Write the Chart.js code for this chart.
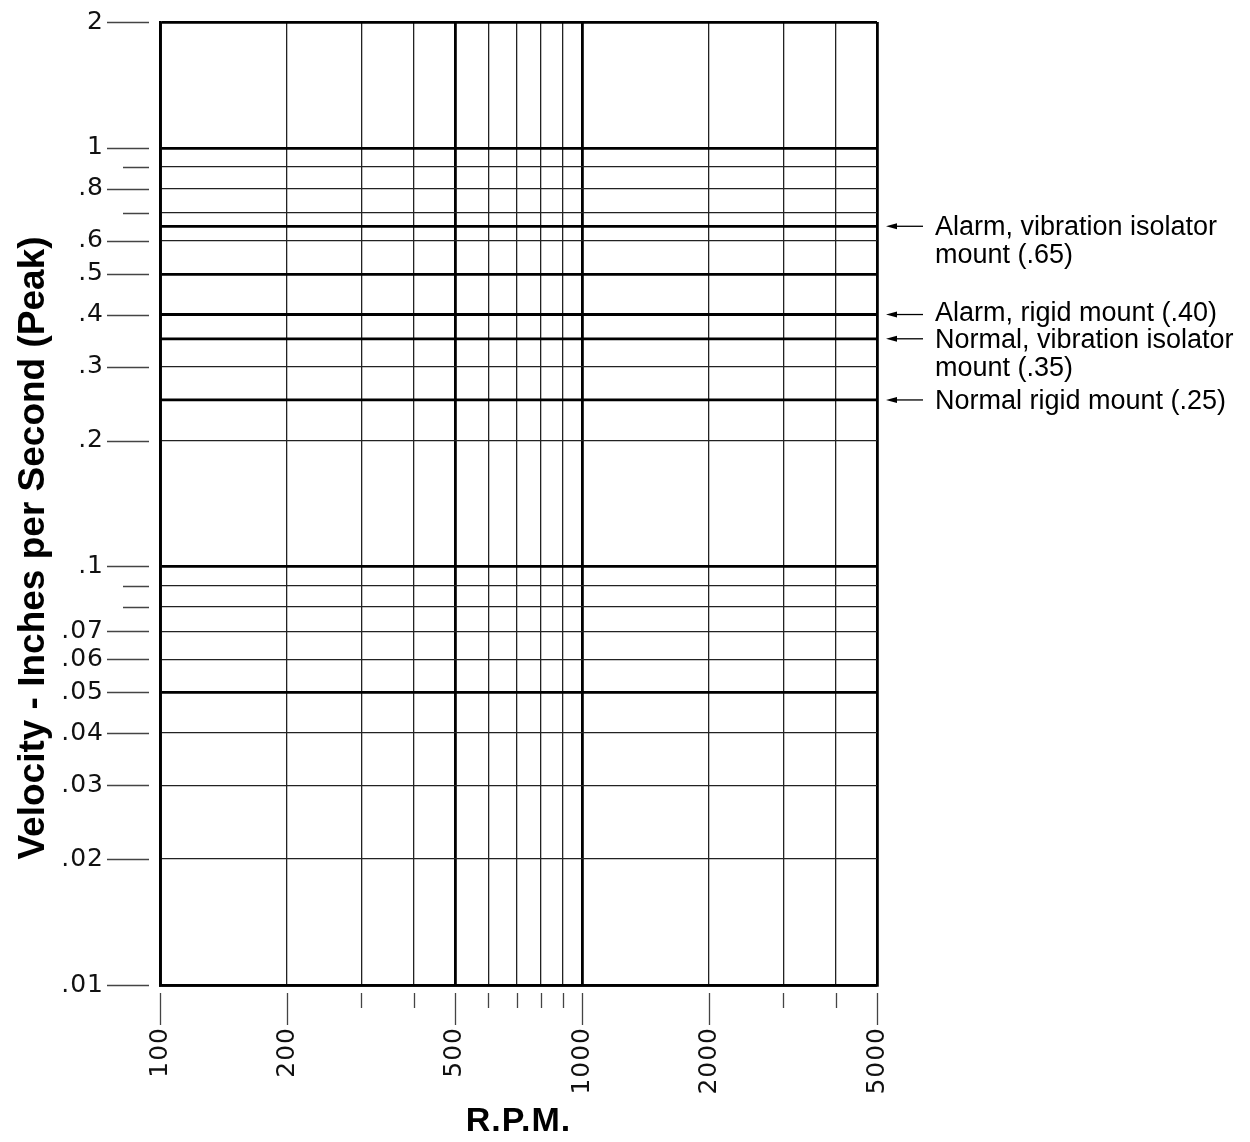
<!DOCTYPE html>
<html>
<head>
<meta charset="utf-8">
<script src="https://cdn.jsdelivr.net/npm/chart.js@4.4.1/dist/chart.umd.min.js"></script>
<style>
  html, body { margin: 0; padding: 0; background: #fff; }
  #chart { display: block; }
</style>
</head>
<body>
<canvas id="chart" width="1250" height="1142"></canvas>
<script>
// R.P.M. axis (log)
const rpmTicks = [100, 200, 300, 400, 500, 600, 700, 800, 900, 1000, 2000, 3000, 4000, 5000];
const rpmLabels = ['100', '200', '', '', '500', '', '', '', '', '1000', '2000', '', '', '5000'];
const rpmHeavy = [100, 500, 1000, 5000];

// velocity axis (log)
const velTicks = [0.01, 0.02, 0.03, 0.04, 0.05, 0.06, 0.07, 0.08, 0.09, 0.1,
  0.2, 0.3, 0.4, 0.5, 0.6, 0.7, 0.8, 0.9, 1, 2];
const velLabels = ['.01', '.02', '.03', '.04', '.05', '.06', '.07', '', '', '.1',
  '.2', '.3', '.4', '.5', '.6', '', '.8', '', '1', '2'];
const velHeavy = [0.01, 0.05, 0.1, 0.5, 1, 2];

// severity limits
const limitValues = [0.65, 0.40, 0.35, 0.25];
const limitNotes = [
  ['Alarm, vibration isolator', 'mount (.65)'],
  ['Alarm, rigid mount (.40)'],
  ['Normal, vibration isolator', 'mount (.35)'],
  ['Normal rigid mount (.25)']
];
const noteShift = [9, 6, 9, 9]; // baseline below the arrow, px

const HEAVY = 2.8, LIGHT = 1.3;
const NONE = 'rgba(0,0,0,0)';

// the drawing's lettering is a little wide-set
const spacing = {
  id: 'spacing',
  beforeDraw(chart) { chart.ctx.letterSpacing = '1px'; }
};

const extras = {
  id: 'extras',
  afterDraw(chart) {
    const { ctx, chartArea, scales: { x, y } } = chart;
    ctx.letterSpacing = '0px';
    ctx.save();
    ctx.strokeStyle = '#444';
    ctx.lineWidth = LIGHT;
    ctx.beginPath();
    velTicks.forEach((v, i) => {
      const py = Math.round(y.getPixelForValue(v)) + 0.5;
      ctx.moveTo(chartArea.left - (velLabels[i] ? 53 : 37), py);
      ctx.lineTo(chartArea.left - 11, py);
    });
    rpmTicks.forEach((v, i) => {
      const px = Math.round(x.getPixelForValue(v)) + 0.5;
      ctx.moveTo(px, chartArea.bottom + 8);
      ctx.lineTo(px, chartArea.bottom + (rpmLabels[i] ? 40 : 23));
    });
    ctx.stroke();

    // y title
    ctx.fillStyle = '#000';
    ctx.font = 'bold 37px "Liberation Sans", Arial, sans-serif';
    ctx.textAlign = 'center';
    ctx.textBaseline = 'alphabetic';
    ctx.translate(44, 548);
    ctx.rotate(-Math.PI / 2);
    ctx.fillText('Velocity - Inches per Second (Peak)', 0, 0);
    ctx.restore();

    // limit notes with arrows
    ctx.save();
    ctx.fillStyle = '#000';
    ctx.strokeStyle = '#000';
    ctx.lineWidth = 1.3;
    ctx.font = '27px "Liberation Sans", Arial, sans-serif';
    ctx.textAlign = 'left';
    ctx.textBaseline = 'alphabetic';
    limitValues.forEach((v, i) => {
      const py = y.getPixelForValue(v);
      const ax = chartArea.right + 9;
      ctx.beginPath();
      ctx.moveTo(ax + 6, py);
      ctx.lineTo(ax + 37, py);
      ctx.stroke();
      ctx.beginPath();
      ctx.moveTo(ax, py);
      ctx.lineTo(ax + 11, py - 3);
      ctx.lineTo(ax + 11, py + 3);
      ctx.closePath();
      ctx.fill();
      limitNotes[i].forEach((line, k) => {
        ctx.fillText(line, chartArea.right + 58, py + noteShift[i] + k * 28);
      });
    });
    ctx.restore();
  }
};

const limitSets = limitValues.map(v => ({
  data: [{ x: 100, y: v }, { x: 5000, y: v }],
  borderColor: '#000',
  borderWidth: HEAVY,
  pointRadius: 0,
  fill: false
}));

new Chart(document.getElementById('chart'), {
  type: 'line',
  data: { datasets: limitSets },
  options: {
    responsive: false,
    animation: false,
    devicePixelRatio: 1,
    layout: { padding: { left: 0, right: 373, top: 22, bottom: 0 } },
    plugins: { legend: { display: false }, tooltip: { enabled: false } },
    scales: {
      x: {
        type: 'logarithmic',
        min: 100,
        max: 5000,
        afterBuildTicks: s => { s.ticks = rpmTicks.map(v => ({ value: v })); },
        afterFit: s => { s.height = 157; },
        border: { display: true, color: '#000', width: HEAVY },
        grid: {
          drawTicks: true,
          tickLength: 42,
          tickColor: NONE,
          color: c => rpmHeavy.includes(c.tick && c.tick.value) ? '#000' : '#222',
          lineWidth: c => rpmHeavy.includes(c.tick && c.tick.value) ? HEAVY : LIGHT
        },
        ticks: {
          autoSkip: false,
          minRotation: 90,
          maxRotation: 90,
          padding: 0,
          color: '#111',
          font: { family: '"DejaVu Sans", sans-serif', size: 25 },
          callback: v => rpmLabels[rpmTicks.indexOf(v)] || ''
        },
        title: {
          display: true,
          text: 'R.P.M.',
          color: '#000',
          font: { family: '"Liberation Sans", Arial, sans-serif', size: 34, weight: 'bold' },
          padding: { top: 0, bottom: 0 }
        }
      },
      y: {
        type: 'logarithmic',
        min: 0.01,
        max: 2,
        afterBuildTicks: s => { s.ticks = velTicks.map(v => ({ value: v })); },
        afterFit: s => { s.width = 160; },
        border: { display: true, color: '#000', width: HEAVY },
        grid: {
          drawTicks: true,
          tickLength: 56,
          tickColor: NONE,
          color: c => velHeavy.includes(c.tick && c.tick.value) ? '#000' : '#222',
          lineWidth: c => velHeavy.includes(c.tick && c.tick.value) ? HEAVY : LIGHT
        },
        ticks: {
          autoSkip: false,
          padding: 0,
          color: '#111',
          font: { family: '"DejaVu Sans", sans-serif', size: 25 },
          callback: v => velLabels[velTicks.indexOf(v)] || ''
        }
      }
    }
  },
  plugins: [spacing, extras]
});
</script>
</body>
</html>
